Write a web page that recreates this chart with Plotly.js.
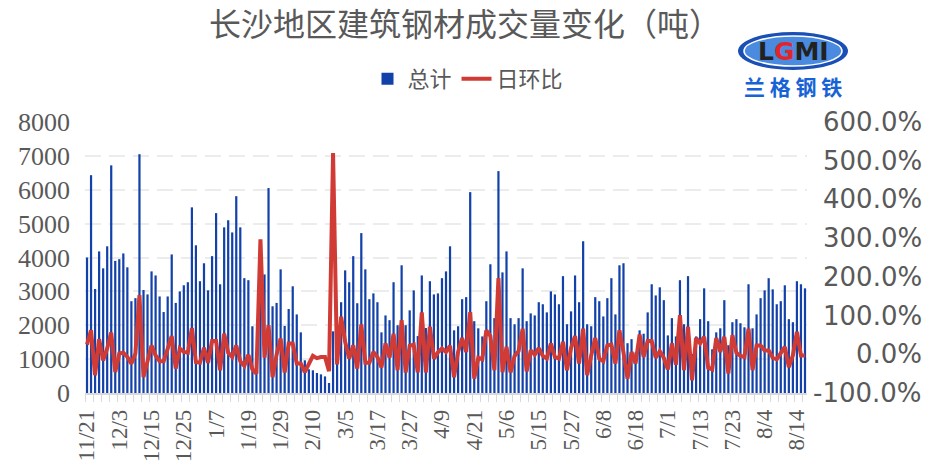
<!DOCTYPE html>
<html>
<head>
<meta charset="utf-8">
<script src="https://cdn.plot.ly/plotly-3.0.1.min.js"></script>
<style>
  html, body { margin: 0; padding: 0; background: #fff; }
  #plot { width: 944px; height: 471px; }
</style>
</head>
<body>
<div id="plot"></div>
<script>
// Tick labels shown on the x axis (one every 8 trading days)
const dateLabels = ['11/21', '12/3', '12/15', '12/25', '1/7', '1/19', '1/29', '2/10', '3/5', '3/17', '3/27',
    '4/9', '4/21', '5/6', '5/15', '5/27', '6/8', '6/18', '7/1', '7/13', '7/23', '8/4', '8/14'];

// 总计 (tons)
const totalTons = [
    4000, 6430, 3070, 4180, 3680, 4330, 6720, 3900, 3950, 4120,
    3710, 2710, 2800, 7050, 3040, 2910, 3590, 3470, 2850, 2390,
    2850, 4090, 2660, 3000, 3180, 3270, 5480, 4360, 3300, 3830,
    3030, 4040, 5310, 3210, 4890, 5100, 4740, 5810, 4890, 3390,
    3330, 1970, 900, 3600, 3500, 6050, 2560, 2660, 3650, 1980,
    2480, 3150, 2320, 1790, 965, 700, 670, 590, 550, 490,
    295, 1820, 1300, 2680, 3620, 3270, 4040, 2650, 4720, 3650,
    2770, 2940, 2680, 1790, 2290, 2150, 3270, 2000, 3770, 2000,
    2440, 3030, 1680, 3470, 1920, 3300, 2910, 2940, 3390, 3590,
    4330, 1850, 1970, 2770, 2830, 5930, 2120, 1910, 1670, 2710,
    3800, 2210, 6550, 3560, 4180, 2210, 2030, 2210, 3680, 2120,
    2350, 2290, 2680, 2620, 2380, 3000, 2910, 2620, 3450, 2030,
    2410, 3470, 2680, 4480, 2030, 1970, 2830, 2710, 2260, 2800,
    3390, 2320, 3770, 3830, 1470, 1590, 1200, 1850, 1750, 2380,
    3210, 2880, 3120, 2740, 1700, 2210, 1670, 3330, 2030, 3450,
    1150, 1670, 2180, 3090, 2120, 1290, 1790, 1910, 2740, 1410,
    2090, 2180, 2060, 1940, 3210, 1910, 2320, 2800, 3030, 3390,
    3060, 2620, 2710, 3180, 2180, 2090, 3300, 3210, 3090
];

// 日环比 (%)
const dailyChangePct = [
    25, 62, -54, 39, -16, 15, 56, -46, 2, 4,
    -7, -24, 2, 153, -59, -16, 23, -3, -18, -18,
    15, 47, -37, 15, 6, 4, 68, -20, -22, 17,
    -22, 34, 34, -41, 53, 4, -7, 23, -18, -30,
    -1, -39, -50, 297, -9, 75, -59, -1, 41, -47,
    28, 28, -24, -24, -46, -24, -4, -10, -7, -7,
    -44, 520, -26, 97, 32, -11, 23, -37, 77, -22,
    -22, 6, -7, -34, 28, -9, 53, -41, 88, -47,
    22, 25, -47, 108, -47, 71, -11, 5, 15, 6,
    22, -59, 6, 42, 6, 109, -63, -9, -13, 62,
    47, -41, 197, -46, 19, -47, -4, 8, 66, -44,
    10, -1, 16, -4, -11, 28, -7, -11, 32, -41,
    16, 47, -24, 66, -54, -3, 42, -11, -18, 23,
    25, -24, 62, 5, -63, 6, -24, 51, -7, 34,
    34, -9, 8, -9, -39, 28, -27, 101, -41, 71,
    -67, 42, 28, 45, -35, -39, 42, 6, 45, -50,
    49, 4, -4, -7, 66, -41, 23, 23, 10, 10,
    -9, -13, 4, 19, -33, -3, 58, -3, -3
];

const rightTicks = [-1, 0, 1, 2, 3, 4, 5, 6];

// Plot area in pixels
const W = 944, H = 471;
const L = 85, R = 807, T = 122, B = 393;
const px = x => (x - L) / (R - L);
const py = y => (B - y) / (B - T);

const idx = totalTons.map((_, i) => i);
const textColor = '#595959';

const barTrace = {
    x: idx,
    y: totalTons,
    type: 'bar',
    name: '总计',
    marker: { color: '#1241A9' },
    hoverinfo: 'skip'
};

const lineTrace = {
    x: idx,
    y: dailyChangePct.map(v => v / 100),
    type: 'scatter',
    mode: 'lines',
    name: '日环比',
    yaxis: 'y2',
    line: { color: '#D13B36', width: 4 },
    hoverinfo: 'skip'
};

// right-aligned percentage labels, like the original
const annotations = rightTicks.map(v => ({
    xref: 'paper', yref: 'y2',
    x: px(924), y: v,
    xanchor: 'right', yanchor: 'middle',
    text: (v * 100).toFixed(1) + '%',
    showarrow: false,
    font: { family: 'DejaVu Sans', size: 26, color: textColor }
}));

// logo text
annotations.push({
    xref: 'paper', yref: 'paper',
    x: px(793), y: py(51),
    xanchor: 'center', yanchor: 'middle',
    text: '<b><span style="color:#222">L</span><span style="color:#e0262b">G</span><span style="color:#222">MI</span></b>',
    showarrow: false,
    font: { family: 'DejaVu Sans', size: 25 }
});
annotations.push({
    xref: 'paper', yref: 'paper',
    x: px(793), y: py(86),
    xanchor: 'center', yanchor: 'middle',
    text: '<b>兰 格 钢 铁</b>',
    showarrow: false,
    font: { family: 'Noto Sans CJK SC', size: 21, color: '#1763d6' }
});

const layout = {
    width: W,
    height: H,
    margin: { l: L, r: W - R, t: T, b: H - B, pad: 0 },
    paper_bgcolor: 'white',
    plot_bgcolor: 'white',
    title: {
        text: '长沙地区建筑钢材成交量变化（吨）',
        xref: 'container', yref: 'container',
        x: 465 / W, y: 1 - 25 / H,
        xanchor: 'center', yanchor: 'middle',
        font: { family: 'Noto Sans CJK SC', size: 32, color: textColor }
    },
    showlegend: true,
    legend: {
        orientation: 'h',
        x: px(468), y: py(79),
        xanchor: 'center', yanchor: 'middle',
        font: { family: 'Noto Sans CJK SC', size: 22, color: textColor },
        itemwidth: 30,
        traceorder: 'normal'
    },
    bargap: 0.45,
    xaxis: {
        range: [-0.5, totalTons.length - 0.5],
        tickmode: 'array',
        tickvals: dateLabels.map((_, k) => k * 8),
        ticktext: dateLabels,
        tickangle: -90,
        ticks: '',
        ticklabelstandoff: 6,
        tickfont: { family: 'Liberation Serif', size: 23, color: textColor },
        minor: {
            tickmode: 'linear',
            tick0: -0.5,
            dtick: 2,
            ticks: 'outside',
            ticklen: 7,
            tickwidth: 1,
            tickcolor: '#d9d9d9',
            showgrid: false
        },
        showgrid: false,
        zeroline: false,
        showline: true,
        linecolor: '#d9d9d9',
        linewidth: 1.5,
        fixedrange: true
    },
    yaxis: {
        range: [0, 8000],
        dtick: 1000,
        tickformat: 'd',
        tickfont: { family: 'Liberation Serif', size: 26, color: textColor },
        ticklabelstandoff: 14,
        showgrid: true,
        gridcolor: '#ececec',
        gridwidth: 2,
        griddash: '16px,8px',
        zeroline: false,
        showline: false,
        fixedrange: true
    },
    yaxis2: {
        overlaying: 'y',
        side: 'right',
        range: [-1, 6],
        dtick: 1,
        showticklabels: false,
        showgrid: false,
        zeroline: false,
        showline: false,
        fixedrange: true
    },
    shapes: [
        {
            type: 'circle', xref: 'paper', yref: 'paper',
            x0: px(738), x1: px(848), y0: py(70), y1: py(32),
            fillcolor: '#1a4fb5', line: { width: 0 }, layer: 'above'
        },
        {
            type: 'circle', xref: 'paper', yref: 'paper',
            x0: px(744), x1: px(842), y0: py(66), y1: py(36),
            fillcolor: '#4a8be0', line: { color: 'white', width: 1.5 }, layer: 'above'
        }
    ],
    annotations: annotations
};

Plotly.newPlot('plot', [barTrace, lineTrace], layout, { displayModeBar: false, staticPlot: true });
</script>
</body>
</html>
